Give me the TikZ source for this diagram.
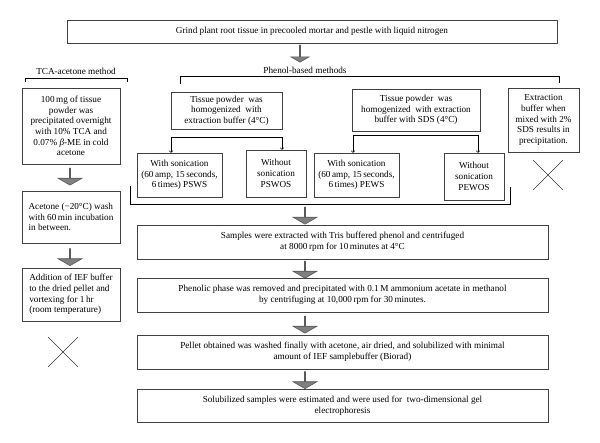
\documentclass[tikz,border=0pt]{standalone}
\usepackage{fontspec}
\setmainfont{Liberation Serif}
\usetikzlibrary{shapes.arrows,shapes.misc}
\begin{document}
\begin{tikzpicture}[
        x=1pt, y=-1pt,
        line width=0.6pt,
        every node/.style={font=\fontsize{9.2}{10.7}\selectfont, inner sep=1pt},
        box/.style={draw=black!75, align=center},
        fatarrow/.style={single arrow, draw=black!65, fill=black!50, shape border rotate=270,
            single arrow tip angle=120, minimum height=17pt, minimum width=24pt,
            single arrow head extend=7pt, inner sep=0pt},
        crossmark/.style={cross out, draw=black!80, minimum size=29pt, inner sep=0pt}
    ]
      \useasboundingbox (0,0) rectangle (600,443);

      % Grinding
      \node[box, minimum width=490pt, minimum height=23pt] (grind) at (312,31.5)
        {Grind plant root tissue in precooled mortar and pestle with liquid nitrogen};
      \node[fatarrow, minimum width=18pt, single arrow head extend=5pt] (g2p) at (300,53.5) {};

      % Method headings
      \node (tcalbl) at (76,71) {TCA-acetone method};
      \node (phelbl) at (305,70) {Phenol-based methods};
      \coordinate (t1) at (25,82);  \coordinate (t2) at (127,82);
      \coordinate (p1) at (180,84); \coordinate (p2) at (559,83);
      \draw (t1) -- ++(0,-4) -| (t2);
      \draw (p1) -- (180,76) -| (p2);

      % TCA-acetone column
      \node[box, minimum width=98pt, minimum height=76pt] (tca1) at (71,126)
        {100\,mg of tissue\\ powder was\\ precipitated overnight\\ with 10\% TCA and\\
         0.07\% \textit{β}-ME in cold\\ acetone};
      \node[fatarrow] (t12) at (70,176.5) {};
      \node[box, align=left, minimum width=98pt, minimum height=52pt] (tca2) at (71,217)
        {Acetone (−20°C) wash\\ with 60\,min incubation\\ in between.};
      \node[fatarrow] (t23) at (70,257) {};
      \node[box, align=left, minimum width=98pt, minimum height=53pt] (tca3) at (71,294.5)
        {Addition of IEF buffer\\ to the dried pellet and\\ vortexing for 1\,hr\\ (room temperature)};
      \node[crossmark] (xl) at (63,352) {};

      % Phenol-based methods
      \node[box, minimum width=111pt, minimum height=37pt] (homa) at (226.5,110.5)
        {Tissue powder\ \ was\\ homogenized\ \ with\\ extraction buffer (4°C)};
      \node[box, minimum width=128pt, minimum height=42pt] (homb) at (416,110)
        {Tissue powder\ \ was\\ homogenized\ \ with extraction\\ buffer with SDS (4°C)};
      \node[box, minimum width=71pt, minimum height=64pt] (sds) at (543.5,120)
        {Extraction\\ buffer when\\ mixed with 2\%\\ SDS results in\\ precipitation.};
      \node[crossmark] (xr) at (548,175) {};

      \node[box, minimum width=85pt, minimum height=44pt] (psws) at (179.5,175)
        {With sonication\\ (60\,amp, 15\,seconds,\\ 6\,times) PSWS};
      \node[box, minimum width=60pt, minimum height=47pt] (pswos) at (276,173.5)
        {Without\\ sonication\\ PSWOS};
      \node[box, minimum width=85pt, minimum height=44pt] (pews) at (356.5,175)
        {With sonication\\ (60\,amp, 15\,seconds,\\ 6\,times) PEWS};
      \node[box, minimum width=60pt, minimum height=47pt] (pewos) at (474,176.5)
        {Without\\ sonication\\ PEWOS};

      \coordinate (sa) at (171,137); \coordinate (sb) at (282,137);
      \coordinate (ea) at (353,135); \coordinate (eb) at (478,135);
      \draw[->] (sa) -- (sa |- psws.north);
      \draw[->] (sa) -- (sb) -- (sb |- pswos.north);
      \draw[->] (ea) -- (ea |- pews.north);
      \draw[->] (ea) -- (eb) -- (eb |- pewos.north);

      % Collecting bracket
      \coordinate (c1) at (130,186); \coordinate (c2) at (510,187);
      \draw (c1) -- (130,204) -| (c2);

      % Common steps
      \node[fatarrow] (s0) at (305,215.5) {};
      \node[box, minimum width=411pt, minimum height=34pt] (extract) at (342.5,242)
        {Samples were extracted with Tris buffered phenol and centrifuged\\
         at 8000\,rpm for 10\,minutes at 4°C};
      \node[fatarrow] (s1) at (305,269.5) {};
      \node[box, minimum width=411pt, minimum height=34pt] (precip) at (342.5,295)
        {Phenolic phase was removed and precipitated with 0.1\,M ammonium acetate in methanol\\
         by centrifuging at 10,000\,rpm for 30\,minutes.};
      \node[fatarrow] (s2) at (305,324.5) {};
      \node[box, minimum width=411pt, minimum height=34pt] (pellet) at (342.5,352)
        {Pellet obtained was washed finally with acetone, air dried, and solubilized with minimal\\
         amount of IEF samplebuffer (Biorad)};
      \node[fatarrow] (s3) at (305,380) {};
      \node[box, minimum width=411pt, minimum height=33pt] (solub) at (342.5,405.5)
        {Solubilized samples were estimated and were used for\ \ two-dimensional gel\\
         electrophoresis};
    \end{tikzpicture}
\end{document}
